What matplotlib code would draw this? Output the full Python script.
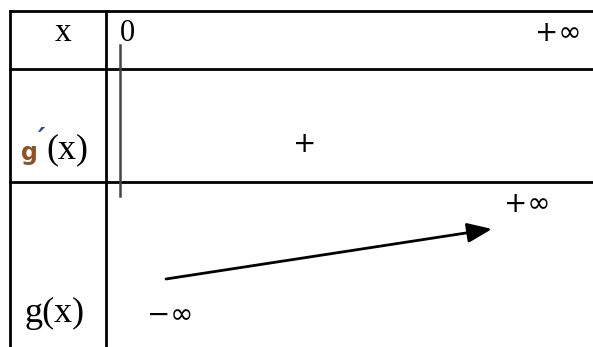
import matplotlib.pyplot as plt
from matplotlib.patches import FancyArrowPatch

# tableau de variations
x_values = ["0", "+∞"]
signe_derivee = ["+"]
limites_g = ["−∞", "+∞"]
labels_lignes = ["x", "g'(x)", "g(x)"]

W, H = 593, 347
fig = plt.figure(figsize=(W / 100, H / 100), dpi=100)
ax = fig.add_axes([0, 0, 1, 1])
ax.set_xlim(0, W)
ax.set_ylim(H, 0)
ax.axis("off")

serif = "Liberation Serif"
lw = 2

# bordures
ax.plot([10, 10], [11, H], color="black", lw=lw)
ax.plot([106, 106], [11, H], color="black", lw=lw)
for y in [11, 69, 182]:
    ax.plot([10, W], [y, y], color="black", lw=lw)

# double barre en 0
ax.plot([120, 120], [45, 196], color="#444444", lw=1.8)

# ligne x
ax.text(63, 33, labels_lignes[0], fontsize=24, family=serif, ha="center", va="center")
ax.text(120, 33, x_values[0], fontsize=22, family=serif, ha="left", va="center")
ax.text(558, 33, x_values[1], fontsize=20, family="DejaVu Sans", ha="center", va="center")

# ligne g'(x)
ax.text(21, 153, "g", fontsize=17, family="DejaVu Sans", weight="bold", color="#8a5226",
        ha="left", va="center")
ax.text(38, 140, "′", fontsize=20, family="DejaVu Sans", weight="bold", style="italic",
        color="#2a4a9a", ha="left", va="center")
ax.text(46, 150, "(x)", fontsize=26, family=serif, ha="left", va="center")
ax.text(305, 144, signe_derivee[0], fontsize=20, family="DejaVu Sans", ha="center", va="center")

# ligne g(x)
ax.text(55, 313, labels_lignes[2], fontsize=26, family=serif, ha="center", va="center")
ax.text(170, 315, limites_g[0], fontsize=20, family="DejaVu Sans", ha="center", va="center")
ax.text(527, 204, limites_g[1], fontsize=20, family="DejaVu Sans", ha="center", va="center")

fleche = FancyArrowPatch((166, 279), (492, 229), arrowstyle="-|>,head_length=5,head_width=2",
                         mutation_scale=3, color="black", lw=2, shrinkA=0, shrinkB=0)
ax.add_patch(fleche)

fig.savefig("out.png", dpi=100)
